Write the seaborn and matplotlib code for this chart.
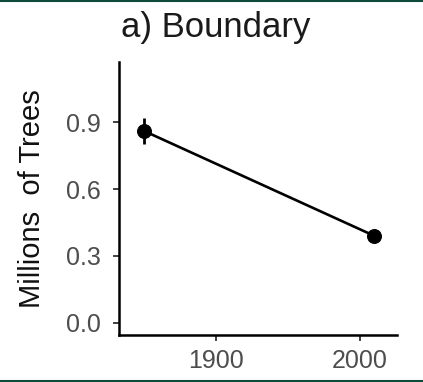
import matplotlib
matplotlib.use("Agg")
import matplotlib.pyplot as plt
import seaborn as sns
import pandas as pd
from matplotlib.lines import Line2D

# data
years = [1850, 2010]
trees = [0.86, 0.39]
errors = [0.06, 0.02]
yticks = [0.0, 0.3, 0.6, 0.9]
xticks = [1900, 2000]

sns.set_theme(style="ticks")
plt.rcParams['font.family'] = ['Liberation Sans', 'DejaVu Sans']

W, H = 423, 382
fig = plt.figure(figsize=(W / 100, H / 100), dpi=100)
fig.patch.set_facecolor("white")
ax = fig.add_axes([119 / W, 1 - 335 / H, (397 - 119) / W, (335 - 62) / H])

df = pd.DataFrame({"year": years, "trees": trees})
sns.lineplot(data=df, x="year", y="trees", ax=ax, color="black", linewidth=1.9,
             marker="o", markersize=10, markeredgecolor="black", markerfacecolor="black")
ax.errorbar(years, trees, yerr=errors, fmt="none", ecolor="black", elinewidth=2.0, capsize=0)

ax.set_xlim(1832.6, 2025.7)
ax.set_ylim(-0.054, 1.169)
ax.set_xticks(xticks)
ax.set_yticks(yticks)
ax.set_yticklabels([f"{v:.1f}" for v in yticks])
ax.set_xlabel("")
ax.set_ylabel("Millions  of Trees", fontsize=21, color="#111111")
ax.yaxis.label.set_verticalalignment("center")
ax.yaxis.set_label_coords((32 - 119) / (397 - 119), 0.5)

for s in ["top", "right"]:
    ax.spines[s].set_visible(False)
for s in ["left", "bottom"]:
    ax.spines[s].set_linewidth(1.8)
    ax.spines[s].set_color("black")
ax.tick_params(axis="both", length=4, width=1.3, color="#333333",
               labelsize=18, labelcolor="#4d4d4d")
ax.tick_params(axis="y", pad=9)
ax.tick_params(axis="x", pad=6)
ax.grid(False)
ax.set_facecolor("white")

fig.text(0.51, 1 - 37 / H, "a) Boundary", fontsize=25, ha="center", va="baseline", color="#1a1a1a")

green = "#0d4a3a"
fig.add_artist(Line2D([0, 1], [1 - 1 / H, 1 - 1 / H], transform=fig.transFigure, color=green, linewidth=1.5))
fig.add_artist(Line2D([0, 1], [1 - 380.5 / H, 1 - 380.5 / H], transform=fig.transFigure, color=green, linewidth=1.5))

fig.savefig("out.png", dpi=100, facecolor="white")
